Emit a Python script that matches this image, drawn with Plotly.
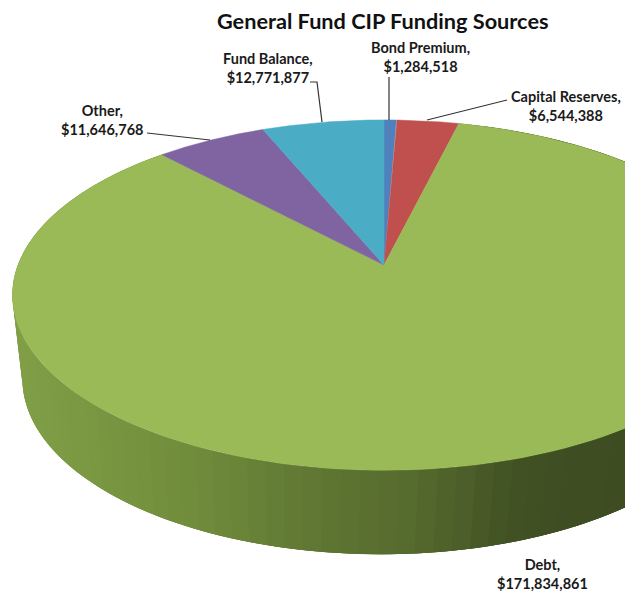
import numpy as np
import plotly.graph_objects as go

# Data, clockwise from twelve o'clock
categories = ["Bond Premium", "Capital Reserves", "Debt", "Other", "Fund Balance"]
values = [1284518, 6544388, 171834861, 11646768, 12771877]
value_labels = ["$1,284,518", "$6,544,388", "$171,834,861", "$11,646,768", "$12,771,877"]
colors = ["#4f81bd", "#c0504d", "#9aba58", "#8064a2", "#4bacc6"]

# Projection of the tilted disc onto the page (pixel-like axis units)
CX, CY = 384.0, 265.0
A, B, K = 170.0, 366.0, 0.1717
DEPTH = 84.0
LOWER_SCALE = 0.965
LOWER_SHIFT = -3.0

# Shading of the rim by horizontal position
rim_x = [0, 60, 200, 300, 420, 520, 625]
rim_rgb = [(130, 160, 72), (125, 155, 68), (112, 140, 60), (98, 122, 52), (86, 106, 46), (66, 82, 36), (62, 76, 34)]

# Leader lines and label positions
leaders = {
    "Bond Premium": ([389, 389], [77, 120]),
    "Capital Reserves": ([507, 427], [100, 120]),
    "Other": ([147, 210], [133, 140]),
    "Fund Balance": ([310, 317, 322], [82, 82, 122]),
}
label_pos = {
    "Bond Premium": (420, 57),
    "Capital Reserves": (566, 106),
    "Debt": (542, 574),
    "Other": (102, 120),
    "Fund Balance": (268, 68),
}


def rim(t, lower=False):
    den = 1 + K * np.cos(t)
    x = B * np.sin(t) / den
    y = -A * np.cos(t) / den
    if lower:
        return CX + LOWER_SHIFT + x * LOWER_SCALE, CY + y + DEPTH
    return CX + x, CY + y


fractions = np.array(values, dtype=float) / sum(values)
edges = np.concatenate([[0], np.cumsum(fractions)]) * 2 * np.pi

fig = go.Figure()

# Side wall of the Debt slice: opaque segments that overlap so no seams show
debt = categories.index("Debt")
ts = np.linspace(edges[debt], edges[debt + 1], 121)
dt = ts[1] - ts[0]
for t0 in ts[:-1]:
    seg = np.linspace(t0, min(t0 + 3 * dt, ts[-1]), 5)
    xu, yu = rim(seg)
    xl, yl = rim(seg, lower=True)
    mid = float(xu[0] + xu[1]) / 2
    rgb = [np.interp(mid, rim_x, [c[i] for c in rim_rgb]) for i in range(3)]
    col = "rgb(%d,%d,%d)" % tuple(rgb)
    fig.add_trace(go.Scatter(
        x=np.concatenate([xu, xl[::-1]]), y=np.concatenate([yu, yl[::-1]]),
        mode="none", fill="toself", fillcolor=col,
        hoverinfo="skip", showlegend=False))

# Top face
for i, name in enumerate(categories):
    t = np.linspace(edges[i], edges[i + 1], 200)
    x, y = rim(t)
    fig.add_trace(go.Scatter(
        x=np.concatenate([[CX], x, [CX]]), y=np.concatenate([[CY], y, [CY]]),
        mode="lines", fill="toself", fillcolor=colors[i],
        line=dict(color=colors[i], width=0.5), name=name, showlegend=False))

# Leader lines
for name, (lx, ly) in leaders.items():
    fig.add_trace(go.Scatter(x=lx, y=ly, mode="lines", line=dict(color="#333333", width=1.2),
                             hoverinfo="skip", showlegend=False))

# Labels
for i, name in enumerate(categories):
    px, py = label_pos[name]
    fig.add_annotation(x=px, y=py, text=f"{name},<br>{value_labels[i]}", showarrow=False,
                       font=dict(family="Lato", size=14.5, color="#1a1a1a", weight="bold"),
                       align="center", xanchor="center", yanchor="middle")

fig.add_annotation(x=383, y=21, text="General Fund CIP Funding Sources", showarrow=False,
                   font=dict(family="Lato", size=21.7, color="#111111", weight="bold"),
                   xanchor="center", yanchor="middle")

fig.update_layout(
    width=625, height=595, margin=dict(l=0, r=0, t=0, b=0),
    paper_bgcolor="white", plot_bgcolor="white", showlegend=False,
    xaxis=dict(range=[0, 625], visible=False, fixedrange=True),
    yaxis=dict(range=[595, 0], visible=False, fixedrange=True),
)
fig.write_html("out.html", config={"displayModeBar": False},
               post_script="document.body.style.margin='0';")
